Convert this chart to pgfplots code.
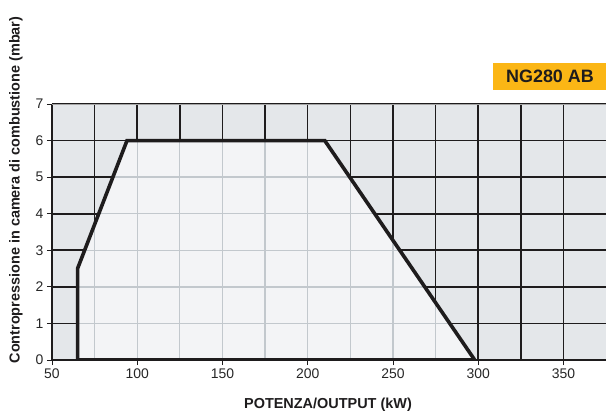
\documentclass[border=0pt]{standalone}
\usepackage{pgfplots}
\pgfplotsset{compat=1.18}
\usepackage{fontspec}
\setmainfont{Liberation Sans}
\definecolor{outerfill}{HTML}{E4E7EA}
\definecolor{innerfill}{HTML}{F3F4F6}
\definecolor{innergrid}{HTML}{C2C8CD}
\definecolor{titlebg}{HTML}{FBB615}
\definecolor{curve}{HTML}{1E1C1D}

\begin{document}
\begin{tikzpicture}
\useasboundingbox (-52bp,-54bp) rectangle (554bp,360bp);
\begin{axis}[
    scale only axis,
    width=554bp, height=256bp,
    xmin=50, xmax=375, ymin=0, ymax=7,
    xtick={50,100,...,350},
    minor xtick={75,125,...,325},
    ytick={0,1,...,7},
    grid=both,
    major grid style={draw=curve, line width=1.6bp},
    minor grid style={draw=curve, line width=1.6bp},
    axis x line*=bottom, axis y line*=left,
    axis line style={draw=curve, line width=0.8bp, -},
    tick align=outside,
    major tick length=5bp, minor tick length=0pt,
    tick style={draw=curve, line width=0.8bp},
    tick label style={font=\fontsize{14}{14}\selectfont, text=black!85},
    /pgf/number format/assume math mode=true,
    axis background/.style={fill=outerfill},
]
% working field
\addplot[fill=innerfill, draw=none] coordinates {
    (65,0) (65,2.5) (94,6) (210,6) (298,0)
} -- cycle;
% light grid inside the field
\pgfplotsextra{
  \begin{scope}
    \clip (axis cs:65,0) -- (axis cs:65,2.5) -- (axis cs:94,6) -- (axis cs:210,6) -- (axis cs:298,0) -- cycle;
    \draw[innergrid, line width=1.3bp]
      (axis cs:75,0) -- (axis cs:75,7)   (axis cs:100,0) -- (axis cs:100,7)
      (axis cs:125,0) -- (axis cs:125,7) (axis cs:150,0) -- (axis cs:150,7)
      (axis cs:175,0) -- (axis cs:175,7) (axis cs:200,0) -- (axis cs:200,7)
      (axis cs:225,0) -- (axis cs:225,7) (axis cs:250,0) -- (axis cs:250,7)
      (axis cs:275,0) -- (axis cs:275,7)
      (axis cs:50,1) -- (axis cs:375,1) (axis cs:50,2) -- (axis cs:375,2)
      (axis cs:50,3) -- (axis cs:375,3) (axis cs:50,4) -- (axis cs:375,4)
      (axis cs:50,5) -- (axis cs:375,5);
  \end{scope}
  \draw[gray!70, line width=1.5bp] (axis cs:50,7) -- (axis cs:375,7);
}
% outline
\addplot[curve, line width=3.6bp, line join=miter] coordinates {
    (65,0) (65,2.5) (94,6) (210,6) (298,0)
} -- cycle;
\end{axis}
\node[rotate=90, font=\bfseries\fontsize{14.5}{14.5}\selectfont, text=curve]
  at (-36bp,170bp) {Contropressione in camera di combustione (mbar)};
\node[font=\bfseries\fontsize{14.5}{14.5}\selectfont, text=curve]
  at (276bp,-45bp) {POTENZA/OUTPUT (kW)};
\fill[titlebg] (441bp,270bp) rectangle (554bp,297bp);
\node[font=\bfseries\fontsize{18}{18}\selectfont, text=curve]
  at (498bp,283.5bp) {NG280 AB};
\end{tikzpicture}
\end{document}
